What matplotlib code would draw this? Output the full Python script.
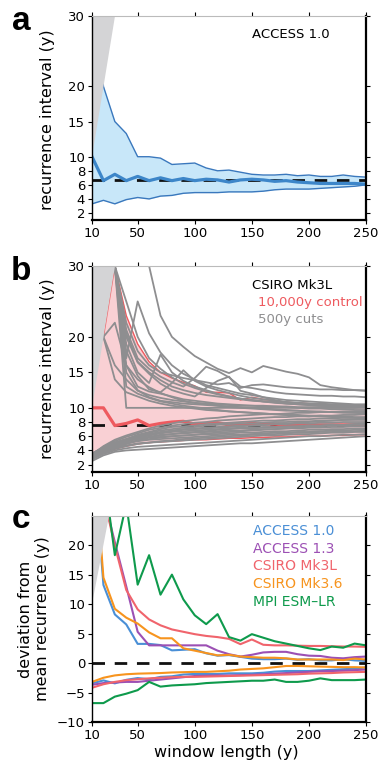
import numpy as np
import matplotlib.pyplot as plt

plt.rcParams['font.family'] = ['DejaVu Sans']

# window lengths (y)
win = [10, 20, 30, 40, 50, 60, 70, 80, 90, 100, 110, 120, 130, 140, 150,
       160, 170, 180, 190, 200, 210, 220, 230, 240, 250]

# ACCESS 1.0 recurrence interval spread
acc10_hi = [45, 20, 15, 13.3, 10, 10, 9.8, 8.9, 9.0, 9.1, 8.4, 8.0, 8.1, 7.8, 7.5,
            7.4, 7.4, 7.5, 7.3, 7.4, 7.2, 7.2, 7.4, 7.2, 7.1]
acc10_lo = [3.3, 3.8, 3.3, 3.9, 4.2, 4.0, 4.4, 4.5, 4.8, 4.9, 4.9, 4.9, 5.0, 5.0, 5.0,
            5.1, 5.3, 5.4, 5.4, 5.4, 5.5, 5.6, 5.7, 5.8, 6.0]
acc10_med = [10, 6.6, 7.5, 6.6, 7.2, 6.6, 7.0, 6.6, 6.9, 6.6, 6.8, 6.7, 6.4, 6.7, 6.8,
             6.7, 6.5, 6.6, 6.4, 6.3, 6.2, 6.2, 6.2, 6.2, 6.1]
acc10_mean = 6.75

# CSIRO Mk3L, 10,000y control
mk3l_hi = [45, 20, 30, 23, 19, 16.5, 15, 14.2, 13.6, 13.1, 12.2, 12.2, 12.1, 11.1, 11.5,
           11.2, 11.0, 10.8, 10.7, 10.6, 10.5, 10.4, 10.4, 10.3, 10.3]
mk3l_lo = [3.3, 3.8, 4.2, 4.6, 4.9, 5.1, 5.2, 5.3, 5.4, 5.5, 5.5, 5.6, 5.7, 5.7, 5.8,
           5.8, 5.9, 5.9, 6.0, 6.0, 6.0, 6.1, 6.1, 6.2, 6.2]
mk3l_med = [10, 10, 7.5, 7.8, 8.3, 7.5, 7.8, 8.0, 8.1, 7.7, 7.8, 7.9, 7.6, 7.7, 7.8,
            7.7, 7.7, 7.6, 7.6, 7.6, 7.6, 7.6, 7.6, 7.6, 7.6]
mk3l_mean = 7.6

# CSIRO Mk3L, 500y cuts (upper and lower bounds of each cut)
cuts_hi = [
    [60, 52, 45, 38, 33, 30, 23, 20, 18.6, 17.3, 16.4, 15.5, 14.9, 15.6, 15.0, 15.9, 15.5, 15.1, 14.8, 14.3, 13.2, 12.9, 12.7, 12.5, 12.4],
    [45, 45, 30, 10, 10, 10, 10, 10, 10, 10, 10, 10, 10, 10, 10, 10, 10, 10, 10, 10, 10, 10, 10, 10, 10.1],
    [45, 45, 30, 20.5, 16.5, 15.0, 13.9, 13.0, 12.5, 12.1, 11.8, 11.6, 11.4, 11.2, 11.0, 10.9, 10.8, 10.8, 10.7, 10.6, 10.6, 10.5, 10.5, 10.4, 10.4],
    [45, 45, 30, 17, 25, 20.5, 17.8, 16, 14.8, 14, 13.2, 12.8, 12.4, 12.0, 11.8, 11.5, 11.3, 11.1, 11.0, 10.9, 10.8, 10.7, 10.6, 10.5, 10.5],
    [45, 20, 16, 14, 12.4, 11.8, 11.4, 11.1, 10.9, 10.7, 10.6, 10.5, 10.4, 10.3, 10.3, 10.2, 10.2, 10.2, 10.1, 10.1, 10.1, 10.0, 10.0, 10.0, 10.0],
    [45, 45, 30, 16, 13, 12.3, 12.0, 11.6, 11.2, 11.0, 10.8, 10.6, 10.5, 10.4, 10.3, 10.3, 10.2, 10.1, 10.0, 9.9, 9.9, 9.8, 9.8, 9.7, 9.7],
    [45, 45, 30, 19, 15, 13.5, 17.5, 15, 13.8, 13, 12.5, 12, 11.6, 11.3, 11.1, 10.9, 10.8, 10.6, 10.5, 10.4, 10.3, 10.2, 10.2, 10.1, 10.1],
    [45, 45, 30, 18, 14.5, 12.6, 12.2, 13.5, 15.3, 13.8, 13.0, 12.5, 12.1, 11.7, 11.4, 11.2, 11.0, 10.8, 10.7, 10.6, 10.5, 10.4, 10.3, 10.3, 10.2],
    [45, 45, 30, 21, 17, 15.5, 14.4, 13.6, 13.0, 14.2, 15.8, 15.2, 14.3, 13.0, 12.8, 12.5, 12.2, 12.0, 11.9, 11.8, 11.7, 11.7, 11.6, 11.6, 11.5],
    [45, 45, 30, 22, 18, 16, 15, 14.6, 14.2, 13.9, 13.6, 13.3, 13.5, 12.8, 13.2, 13.3, 13.1, 12.9, 12.8, 12.7, 12.6, 12.6, 12.5, 12.5, 12.45],
    [45, 45, 30, 25, 20, 17, 15.5, 14.3, 13.4, 12.8, 12.3, 11.9, 11.6, 11.3, 11.1, 10.9, 10.7, 10.6, 10.5, 10.4, 10.3, 10.3, 10.2, 10.2, 10.1],
    [45, 45, 30, 15, 12.5, 11.5, 11.0, 10.8, 10.6, 10.5, 10.4, 10.3, 10.2, 10.1, 10.0, 9.9, 9.8, 9.7, 9.6, 9.5, 9.5, 9.4, 9.4, 9.3, 9.3],
    [45, 20, 14, 12.2, 11.6, 11.0, 10.6, 10.3, 10.1, 9.9, 9.7, 9.6, 9.5, 9.4, 9.3, 9.2, 9.1, 9.0, 9.0, 8.9, 8.9, 8.8, 8.8, 8.7, 8.7],
    [45, 45, 30, 20, 16.4, 14.8, 13.4, 12.5, 12.0, 11.6, 12.8, 13.8, 14.4, 12.4, 12.0, 11.5, 11.1, 10.8, 10.6, 10.5, 10.4, 10.3, 10.3, 10.2, 10.2],
    [45, 45, 30, 13, 12.0, 11.4, 10.9, 10.6, 10.3, 10.1, 9.9, 9.7, 9.5, 9.4, 9.3, 9.2, 9.1, 9.0, 8.9, 8.8, 8.8, 8.7, 8.6, 8.6, 8.5],
    [45, 20, 22, 16, 14, 12.9, 12.1, 11.5, 11.0, 10.7, 10.5, 10.3, 10.1, 10.0, 9.9, 9.8, 9.7, 9.6, 9.6, 9.5, 9.4, 9.4, 9.3, 9.3, 9.2],
]
cuts_lo = [
    [2.5, 3.3, 3.8, 4.0, 4.1, 4.2, 4.3, 4.4, 4.5, 4.6, 4.7, 4.8, 4.9, 5.0, 5.0, 5.1, 5.2, 5.3, 5.4, 5.5, 5.6, 5.7, 5.8, 5.9, 6.0],
    [2.8, 3.5, 4.0, 4.3, 4.5, 4.6, 4.7, 4.8, 4.9, 5.0, 5.1, 5.2, 5.3, 5.4, 5.5, 5.6, 5.7, 5.8, 5.9, 6.0, 6.0, 6.1, 6.2, 6.2, 6.3],
    [3.0, 3.7, 4.3, 4.7, 5.0, 5.1, 5.2, 5.3, 5.4, 5.5, 5.6, 5.7, 5.8, 5.9, 6.0, 6.1, 6.1, 6.2, 6.3, 6.3, 6.4, 6.5, 6.5, 6.6, 6.6],
    [3.3, 4.0, 4.6, 5.0, 5.3, 5.5, 5.6, 5.7, 5.8, 5.9, 6.0, 6.1, 6.2, 6.2, 6.3, 6.4, 6.5, 6.5, 6.6, 6.6, 6.7, 6.8, 6.8, 6.9, 6.9],
    [3.1, 3.9, 4.4, 4.9, 5.4, 5.8, 5.9, 6.0, 6.1, 6.2, 6.3, 6.3, 6.4, 6.5, 6.5, 6.6, 6.7, 6.7, 6.8, 6.9, 6.9, 7.0, 7.0, 7.1, 7.1],
    [3.5, 4.3, 4.9, 5.3, 5.6, 5.9, 6.1, 6.3, 6.4, 6.5, 6.6, 6.7, 6.8, 6.8, 6.9, 7.0, 7.0, 7.1, 7.1, 7.2, 7.2, 7.3, 7.3, 7.4, 7.4],
    [2.9, 3.8, 4.6, 5.2, 5.8, 6.1, 6.4, 6.6, 6.7, 6.8, 6.9, 7.0, 7.1, 7.2, 7.2, 7.3, 7.3, 7.4, 7.4, 7.5, 7.5, 7.6, 7.6, 7.7, 7.7],
    [3.4, 4.2, 5.0, 5.5, 5.9, 6.3, 6.6, 6.8, 7.0, 7.1, 7.2, 7.3, 7.4, 7.5, 7.5, 7.6, 7.7, 7.7, 7.8, 7.8, 7.9, 7.9, 8.0, 8.0, 8.0],
    [3.2, 4.1, 4.8, 5.4, 6.0, 6.5, 6.8, 7.0, 7.2, 7.3, 7.5, 7.6, 7.7, 7.8, 7.8, 7.9, 8.0, 8.0, 8.1, 8.1, 8.2, 8.2, 8.3, 8.3, 8.3],
    [3.6, 4.4, 5.1, 5.6, 6.2, 6.6, 7.0, 7.3, 7.4, 7.5, 7.7, 7.8, 7.9, 8.0, 8.1, 8.2, 8.2, 8.3, 8.4, 8.4, 8.5, 8.5, 8.6, 8.6, 8.6],
    [2.7, 3.6, 4.2, 4.6, 4.9, 5.1, 5.3, 5.4, 5.6, 5.7, 5.8, 5.9, 6.0, 6.1, 6.2, 6.3, 6.3, 6.4, 6.5, 6.5, 6.6, 6.6, 6.7, 6.7, 6.8],
    [3.3, 4.3, 5.1, 5.6, 6.0, 6.3, 6.5, 6.7, 6.9, 7.0, 7.1, 7.2, 7.3, 7.4, 7.5, 7.6, 7.7, 7.8, 7.9, 8.0, 8.1, 8.2, 8.3, 8.4, 8.5],
    [3.0, 3.9, 4.5, 5.0, 5.4, 5.6, 5.8, 6.0, 6.1, 6.2, 6.4, 6.5, 6.6, 6.7, 6.8, 6.9, 7.0, 7.1, 7.2, 7.3, 7.4, 7.5, 7.5, 7.6, 7.6],
    [3.5, 4.5, 5.3, 5.9, 6.4, 6.9, 7.2, 7.5, 7.7, 7.9, 8.0, 8.2, 8.3, 8.4, 8.5, 8.6, 8.7, 8.7, 8.8, 8.8, 8.9, 8.9, 9.0, 9.0, 9.1],
    [3.2, 4.0, 4.7, 5.2, 5.7, 5.9, 6.2, 6.3, 6.5, 6.6, 6.7, 6.9, 7.0, 7.1, 7.1, 7.2, 7.3, 7.3, 7.4, 7.5, 7.5, 7.6, 7.6, 7.7, 7.8],
    [3.4, 4.6, 5.5, 6.1, 6.6, 7.1, 7.5, 7.8, 8.1, 8.3, 8.5, 8.6, 8.8, 8.9, 9.0, 9.1, 9.1, 9.2, 9.3, 9.3, 9.4, 9.4, 9.5, 9.5, 9.5],
]

# deviation from mean recurrence, other models (upper / lower)
acc13_hi = [45, 28.4, 20.5, 13.0, 5.3, 3.0, 3.0, 3.0, 3.0, 3.0, 3.0, 2.1, 1.5, 1.1, 1.4,
            1.8, 1.9, 1.9, 1.5, 1.25, 1.2, 0.9, 0.8, 1.0, 1.1]
acc13_lo = [-3.7, -3.4, -3.3, -3.2, -3.2, -3.0, -2.8, -2.6, -2.4, -2.2, -2.15, -2.1, -2.1, -2.05, -2.0,
            -1.9, -1.8, -1.7, -1.6, -1.5, -1.4, -1.35, -1.3, -1.2, -1.1]
dev_mk3l_hi = [45, 28.4, 19.9, 12.4, 9.1, 7.4, 6.4, 5.7, 5.3, 4.9, 4.6, 4.4, 4.1, 3.2, 4.0,
               3.1, 3.0, 3.0, 2.95, 2.9, 2.9, 2.85, 2.8, 2.8, 2.75]
dev_mk3l_lo = [-4.2, -3.6, -3.2, -2.9, -2.75, -2.6, -2.5, -2.4, -2.35, -2.35, -2.3, -2.25, -2.2, -2.15, -2.1,
               -2.05, -2.0, -1.95, -1.9, -1.8, -1.75, -1.7, -1.6, -1.55, -1.5]
mk36_hi = [40, 14.5, 9.2, 7.7, 6.7, 5.2, 4.2, 4.2, 2.5, 2.1, 1.7, 1.3, 1.4, 1.1, 1.0,
           0.9, 0.9, 0.8, 0.6, 0.6, 0.6, 0.6, 0.5, 0.75, 0.6]
mk36_lo = [-3.2, -2.5, -2.1, -1.9, -1.8, -1.75, -1.7, -1.6, -1.55, -1.5, -1.5, -1.4, -1.3, -1.1, -1.0,
           -0.9, -0.7, -0.5, -0.5, -0.55, -0.6, -0.65, -0.7, -0.7, -0.75]
mpi_hi = [45, 33, 18.3, 27, 13.3, 18.3, 11.6, 15.0, 10.8, 8.1, 6.6, 8.3, 4.4, 3.8, 4.9,
          4.3, 3.7, 3.3, 2.9, 2.5, 2.2, 2.8, 2.6, 3.3, 3.0]
mpi_lo = [-6.8, -6.8, -5.7, -5.2, -4.6, -3.2, -4.0, -3.8, -3.7, -3.6, -3.4, -3.3, -3.2, -3.1, -3.0,
          -3.0, -2.8, -3.2, -3.2, -3.0, -2.6, -2.9, -2.9, -2.9, -2.8]

model_names = ['ACCESS 1.0', 'ACCESS 1.3', 'CSIRO Mk3L', 'CSIRO Mk3.6', 'MPI ESM\u2013LR']
model_colors = ['#4a8fd6', '#9c50b4', '#f0646c', '#f7941e', '#0e9a4c']

wedge_col = '#d4d4d6'


def style_axes(ax, ymin, ymax, yticks):
    ax.set_xlim(10, 250)
    ax.set_ylim(ymin, ymax)
    ax.set_xticks([10, 50, 100, 150, 200, 250])
    ax.set_yticks(yticks)
    ax.tick_params(direction='out', length=3, width=0.8, labelsize=9.5,
                   top=True, right=True, pad=2)
    for s in ['bottom', 'right']:
        ax.spines[s].set_linewidth(1.6)
    ax.spines['left'].set_linewidth(1.0)
    ax.spines['top'].set_linewidth(0.8)
    ax.spines['top'].set_color('#bbbbbb')
    for s in ax.spines.values():
        s.set_zorder(5)


def draw_wedge(ax, top):
    # region where the recurrence interval exceeds the window length
    ax.fill([10, 10, top], [10, top, top], color=wedge_col, lw=0, zorder=4)


fig = plt.figure(figsize=(3.78, 7.72), dpi=100)
ax1 = fig.add_axes([0.2434, 0.7150, 0.7249, 0.2642])
ax2 = fig.add_axes([0.2434, 0.3890, 0.7249, 0.2665])
ax3 = fig.add_axes([0.2434, 0.0648, 0.7249, 0.2672])

# a) ACCESS 1.0
ax1.fill_between(win, acc10_lo, acc10_hi, color='#c8e7f9', lw=0, zorder=1)
ax1.plot(win, acc10_hi, color='#3a78bd', lw=1.0, zorder=2)
ax1.plot(win, acc10_lo, color='#3a78bd', lw=1.0, zorder=2)
ax1.plot([10, 250], [acc10_mean, acc10_mean], color='#111111', lw=2, dashes=(4.5, 3.5), zorder=2.5)
ax1.plot(win, acc10_med, color='#3d86c9', lw=2.3, zorder=3)
draw_wedge(ax1, 30)
ax1.text(150, 27.4, 'ACCESS 1.0', fontsize=9.5, va='center', ha='left')
style_axes(ax1, 1, 30, [2, 4, 6, 8, 10, 15, 20, 30])

# b) CSIRO Mk3L control vs 500y cuts
ax2.fill_between(win, mk3l_lo, mk3l_hi, color='#f9d0d4', lw=0, zorder=1)
ax2.plot(win, mk3l_hi, color='#ee5a5f', lw=1.0, zorder=2)
ax2.plot(win, mk3l_lo, color='#ee5a5f', lw=1.0, zorder=2)
ax2.plot([10, 250], [mk3l_mean, mk3l_mean], color='#111111', lw=2, dashes=(4.5, 3.5), zorder=2.5)
ax2.plot(win, mk3l_med, color='#ee5a5f', lw=2.3, zorder=2.6)
for c in cuts_lo + cuts_hi:
    ax2.plot(win, c, color='#8e8e90', lw=1.3, zorder=3)
draw_wedge(ax2, 30)
ax2.text(150, 27.3, 'CSIRO Mk3L', fontsize=9.5, va='center', ha='left')
ax2.text(155.5, 24.8, '10,000y control', fontsize=9.5, va='center', ha='left', color='#ee5a5f')
ax2.text(155.5, 22.4, '500y cuts', fontsize=9.5, va='center', ha='left', color='#8e8e90')
style_axes(ax2, 1, 30, [2, 4, 6, 8, 10, 15, 20, 30])

# c) deviation from mean recurrence for all models
acc10_dev_hi = [v - acc10_mean for v in acc10_hi]
acc10_dev_lo = [v - acc10_mean for v in acc10_lo]
dev_series = [(acc10_dev_hi, acc10_dev_lo), (acc13_hi, acc13_lo), (dev_mk3l_hi, dev_mk3l_lo),
              (mk36_hi, mk36_lo), (mpi_hi, mpi_lo)]
ax3.plot([10, 250], [0, 0], color='#111111', lw=2, dashes=(4.5, 3.5), zorder=2)
for (hi, lo), col in zip(dev_series, model_colors):
    ax3.plot(win, hi, color=col, lw=1.5, zorder=3)
    ax3.plot(win, lo, color=col, lw=1.5, zorder=3)
draw_wedge(ax3, 25)
for i, (name, col) in enumerate(zip(model_names, model_colors)):
    ax3.text(151, 22.4 - 3.0 * i, name, fontsize=10, va='center', ha='left', color=col)
style_axes(ax3, -10, 25, [-10, -5, 0, 5, 10, 15, 20])

# labels and panel letters
fig.text(48 / 378, 1 - 120 / 772, 'recurrence interval (y)', rotation=90,
         ha='center', va='center', fontsize=11.5)
fig.text(48 / 378, 1 - 369 / 772, 'recurrence interval (y)', rotation=90,
         ha='center', va='center', fontsize=11.5)
fig.text(34 / 378, 1 - 619 / 772, 'deviation from\nmean recurrence (y)', rotation=90,
         ha='center', va='center', fontsize=11.5, linespacing=1.15)
fig.text(226 / 378, 1 - 752 / 772, 'window length (y)', ha='center', va='center', fontsize=11.5)
for letter, yy in [('a', 21), ('b', 272), ('c', 520)]:
    fig.text(21 / 378, 1 - yy / 772, letter, ha='center', va='center', fontsize=24,
             fontweight='bold', family=['Liberation Sans', 'DejaVu Sans'])

plt.savefig('out.png', dpi=100)
